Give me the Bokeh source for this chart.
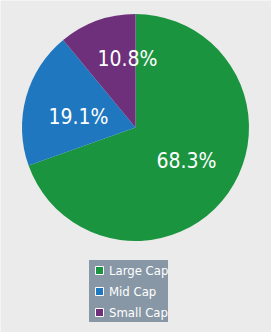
import math
from bokeh.plotting import figure
from bokeh.models import ColumnDataSource, Legend, LegendItem
from bokeh.core.properties import value
from bokeh.embed import file_html
from bokeh.resources import INLINE

categories = ["Large Cap", "Mid Cap", "Small Cap"]
shares = [68.3, 19.1, 10.8]
labels = ["68.3%", "19.1%", "10.8%"]
colors = ["#1b943f", "#1f77c0", "#6e2f7b"]

W, H = 271, 332
cx, cy, R = 135, 332 - 127, 113.5
# label placement offsets from the pie centre (pixels), styling only
label_dx = [51, -57, -8]
label_dy = [-33, 11, 69]

total = sum(shares)
starts, ends = [], []
acc = 0.0
for s in shares:
    a0 = math.pi / 2 - 2 * math.pi * acc / total
    acc += s
    a1 = math.pi / 2 - 2 * math.pi * acc / total
    starts.append(a1)
    ends.append(a0)

lx = [cx + d for d in label_dx]
ly = [cy + d for d in label_dy]

src = ColumnDataSource(dict(cat=categories, share=shares, label=labels, color=colors,
                            start=starts, end=ends, lx=lx, ly=ly,
                            x=[cx] * 3, y=[cy] * 3))

p = figure(width=W, height=H, x_range=(0, W), y_range=(0, H),
           output_backend="svg", toolbar_location=None, min_border=0,
           background_fill_color="#ebebeb", border_fill_color="#ebebeb",
           outline_line_color=None)
p.axis.visible = False
p.grid.visible = False

p.wedge(x="x", y="y", radius=R, start_angle="start", end_angle="end",
        fill_color="color", line_color=None, source=src)
p.text(x="lx", y="ly", text="label", source=src, text_color="white",
       text_font=value("DejaVu Sans Condensed"), text_font_size="21px",
       text_align="center", text_baseline="middle")

items = []
for i, c in enumerate(categories):
    r = p.scatter(x=[-100], y=[-100], marker="square", size=8,
                  fill_color=colors[i], line_color="white", line_width=1)
    items.append(LegendItem(label=c, renderers=[r]))

legend = Legend(items=items, location=(89, 10), orientation="vertical",
                background_fill_color="#8797a6", background_fill_alpha=1.0,
                border_line_color=None, padding=3, margin=0, spacing=1,
                glyph_width=20, glyph_height=20, label_height=20,
                label_standoff=0, label_text_color="white",
                label_text_font="DejaVu Sans Condensed", label_text_font_size="13px")
p.add_layout(legend, "center")

open("out.html", "w").write(file_html(p, INLINE))
